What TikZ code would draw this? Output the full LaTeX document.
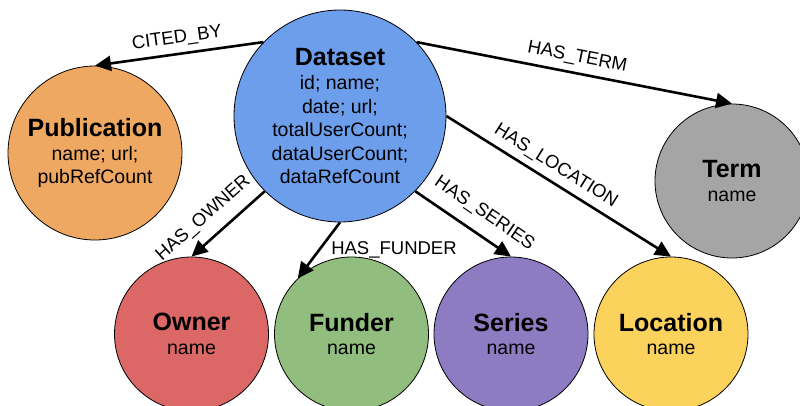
\documentclass[tikz,border=0pt]{standalone}
\usepackage{fontspec}
\setmainfont{Liberation Sans}
\usetikzlibrary{arrows.meta}
\definecolor{dsblue}{HTML}{6D9EEB}
\definecolor{puborange}{HTML}{EFA862}
\definecolor{termgray}{HTML}{A5A5A5}
\definecolor{ownred}{HTML}{DC6767}
\definecolor{fundgreen}{HTML}{91BE7F}
\definecolor{serpurple}{HTML}{8E7CC3}
\definecolor{locyellow}{HTML}{FAD25C}
\newcommand{\enttitle}[1]{{\fontsize{25}{27}\selectfont\bfseries #1}}
\begin{document}
\begin{tikzpicture}[x=1pt, y=-1pt,
        entity/.style={circle, draw=black, line width=0.8pt, inner sep=0pt, align=center, font=\fontsize{19.5}{23.5}\selectfont},
        rel/.style={black, line width=2.6pt, -{Triangle[length=16pt, width=15pt]}},
        rlabel/.style={font=\fontsize{18.5}{20}\selectfont, inner sep=2pt}]
        \useasboundingbox (0, 0) rectangle (800, 405);
        \node [entity, fill=dsblue, minimum size=212pt] at (340, 116) (ds) {\enttitle{Dataset}\\[1pt] id; name;\\ date; url;\\ totalUserCount;\\ dataUserCount;\\ dataRefCount};
        \node [entity, fill=puborange, minimum size=174pt] at (95, 153) (pub) {\enttitle{Publication}\\ name; url;\\ pubRefCount};
        \node [entity, fill=termgray, minimum size=154pt] at (732, 181) (term) {\enttitle{Term}\\ name};
        \node [entity, fill=ownred, minimum size=154pt] at (191.5, 334) (own) {\enttitle{Owner}\\ name};
        \node [entity, fill=fundgreen, minimum size=154pt] at (351.5, 334) (fund) {\enttitle{Funder}\\ name};
        \node [entity, fill=serpurple, minimum size=154pt] at (511, 334) (ser) {\enttitle{Series}\\ name};
        \node [entity, fill=locyellow, minimum size=154pt] at (671, 334) (loc) {\enttitle{Location}\\ name};

        \draw [rel] (ds.136) -- node [rlabel, above=4pt, sloped] {CITED\_BY} (pub.north);
        \draw [rel] (ds.44) -- node [rlabel, above=4pt, sloped] {HAS\_TERM} (term.north);
        \draw [rel] (ds.0) -- node [rlabel, above=4pt, sloped, pos=0.45] {HAS\_LOCATION} (loc.north);
        \draw [rel] (ds.-45) -- node [rlabel, above=9pt, sloped, pos=0.6] {HAS\_SERIES} (ser.north);
        \draw [rel] (ds.south) -- node [rlabel, right=7pt, yshift=-2pt, pos=0.45] {HAS\_FUNDER} (fund.134);
        \draw [rel] (ds.-135) -- node [rlabel, above=9pt, sloped, pos=0.65] {HAS\_OWNER} (own.north);
\end{tikzpicture}
\end{document}
